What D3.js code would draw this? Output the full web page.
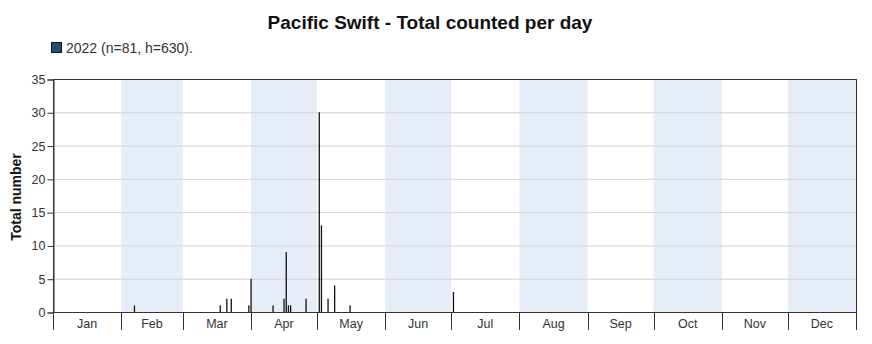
<!DOCTYPE html>
<html><head><meta charset="utf-8">
<script src="https://cdn.jsdelivr.net/npm/d3@7"></script>
<style>body{margin:0;background:#fff;}svg{display:block;font-family:"Liberation Sans",Arial,sans-serif;}</style>
</head><body><svg id="c" width="872" height="344"></svg>
<script>
const title = "Pacific Swift - Total counted per day";
const legendLabel = "2022 (n=81, h=630).";
const yLabel = "Total number";
const months = ["Jan","Feb","Mar","Apr","May","Jun","Jul","Aug","Sep","Oct","Nov","Dec"];
const yTicks = [0,5,10,15,20,25,30,35];
const dates = ["2022-02-07","2022-03-18","2022-03-21","2022-03-23","2022-03-31","2022-04-01","2022-04-11","2022-04-16","2022-04-17","2022-04-18","2022-04-19","2022-04-26","2022-05-02","2022-05-03","2022-05-06","2022-05-09","2022-05-16","2022-07-02"];
const counts = [1,1,2,2,1,5,1,2,9,1,1,2,30,13,2,4,1,3];

const svg = d3.select("#c");
const M = {l:53, r:856, t:79, b:312};
const parse = d3.timeParse("%Y-%m-%d");
const x = d3.scaleTime().domain([new Date(2022,0,1), new Date(2023,0,1)]).range([M.l, M.r]);
const y = d3.scaleLinear().domain([0,35]).range([M.b, M.t]);
const monthStarts = d3.range(12).map(i => new Date(2022,i,1));
const monthEnd = i => new Date(2022,i+1,1);

// shaded alternate months
svg.append("g").selectAll("rect").data(monthStarts.filter((d,i)=>i%2===1)).join("rect")
  .attr("x", d=>x(d)).attr("y", M.t)
  .attr("width", d=>x(monthEnd(d.getMonth()))-x(d)).attr("height", M.b-M.t)
  .attr("fill","#e7edf8");

// grid
svg.append("g").selectAll("line").data(yTicks.filter(v=>v>0&&v<35)).join("line")
  .attr("x1",M.l).attr("x2",M.r).attr("y1",d=>y(d)+0.5).attr("y2",d=>y(d)+0.5)
  .attr("stroke","#d2d2d2").attr("stroke-width",1);

// bars
svg.append("g").selectAll("rect").data(dates.map((d,i)=>({d:parse(d),v:counts[i]}))).join("rect")
  .attr("x", d=>x(d.d)-0.6).attr("y", d=>y(d.v)).attr("width",1.3).attr("height", d=>M.b-y(d.v))
  .attr("fill","#111");

// frame
svg.append("rect").attr("x",M.l+0.5).attr("y",M.t+0.5).attr("width",M.r-M.l).attr("height",M.b-M.t)
  .attr("fill","none").attr("stroke","#333").attr("stroke-width",1);

// y axis
const ya = svg.append("g").attr("transform",`translate(${M.l+0.5},0.5)`)
  .call(d3.axisLeft(y).tickValues(yTicks).tickSize(6).tickPadding(2));
ya.select(".domain").attr("stroke","#333");
ya.selectAll(".tick line").attr("stroke","#333");
ya.selectAll("text").attr("font-size",12.5).attr("fill","#333").attr("font-family","Liberation Sans, Arial, sans-serif");

// x axis month separators
svg.append("g").selectAll("line").data(monthStarts.concat([new Date(2023,0,1)])).join("line")
  .attr("x1",d=>Math.round(x(d))+0.5).attr("x2",d=>Math.round(x(d))+0.5).attr("y1",M.b).attr("y2",M.b+18)
  .attr("stroke","#333").attr("stroke-width",1);
svg.append("line").attr("x1",M.l).attr("x2",M.r).attr("y1",M.b+0.5).attr("y2",M.b+0.5).attr("stroke","#333");
svg.append("g").selectAll("text").data(monthStarts).join("text")
  .attr("x",(d,i)=>(x(d)+x(monthEnd(i)))/2).attr("y",M.b+16)
  .attr("text-anchor","middle").attr("font-size",12.5).attr("fill","#333")
  .text((d,i)=>months[i]);

// title
svg.append("text").attr("x",430).attr("y",29).attr("text-anchor","middle")
  .attr("font-size",19).attr("font-weight","bold").attr("fill","#111").text(title);

// legend
svg.append("rect").attr("x",51.5).attr("y",42.5).attr("width",10).attr("height",10)
  .attr("fill","#1f4e79").attr("stroke","#111");
svg.append("text").attr("x",66).attr("y",53).attr("font-size",14).attr("fill","#333").text(legendLabel);

// y label
svg.append("text").attr("transform","translate(21,197) rotate(-90)").attr("text-anchor","middle")
  .attr("font-size",14).attr("font-weight","bold").attr("fill","#111").text(yLabel);
</script></body></html>
